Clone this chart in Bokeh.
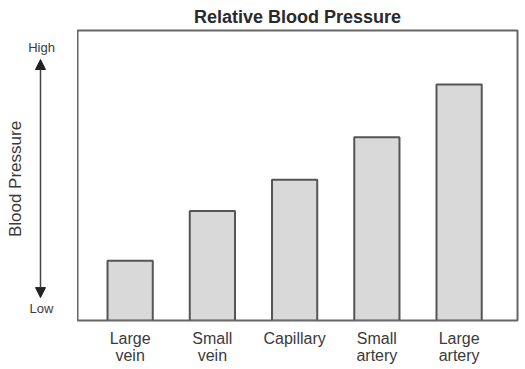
from bokeh.plotting import figure
from bokeh.layouts import row
from bokeh.models import ColumnDataSource, FixedTicker, Label, Arrow, NormalHead, Range1d
from bokeh.embed import file_html
from bokeh.resources import INLINE

categories = ["Large\nvein", "Small\nvein", "Capillary", "Small\nartery", "Large\nartery"]
positions = [1, 2, 3, 4, 5]
pressure = [20.6, 37.8, 48.5, 63.2, 81.4]

FONT = "Liberation Sans"
TXT = "#3a3a3a"

yr = Range1d(0, 100)

# ---- main chart ----
src = ColumnDataSource(dict(x=positions, top=pressure))
p = figure(frame_width=440, frame_height=290, output_backend="svg", toolbar_location=None,
           x_range=Range1d(0.36, 5.71), y_range=yr,
           min_border_left=0, min_border_right=4, min_border_top=30, min_border_bottom=45,
           title="Relative Blood Pressure")
p.title.align = "center"
p.title.text_font = FONT
p.title.text_font_size = "18px"
p.title.text_font_style = "bold"
p.title.text_color = "#2a2a2a"
p.title.standoff = 8

p.vbar(x="x", top="top", bottom=0, width=0.55, source=src,
       fill_color="#d9d9d9", line_color="#555555", line_width=2)

p.outline_line_color = "#666666"
p.outline_line_width = 2
p.xgrid.visible = False
p.ygrid.visible = False
p.yaxis.visible = False

ax = p.xaxis[0]
ax.ticker = FixedTicker(ticks=positions)
ax.major_label_overrides = {pos: lab for pos, lab in zip(positions, categories)}
ax.axis_line_color = None
ax.major_tick_line_color = None
ax.minor_tick_line_color = None
ax.major_label_standoff = 3
ax.major_label_text_font = FONT
ax.major_label_text_font_size = "16px"
ax.major_label_text_color = TXT
ax.major_label_text_line_height = 1.0

# ---- left annotation strip ----
q = figure(width=77, frame_height=290, output_backend="svg", toolbar_location=None,
           x_range=Range1d(0, 77), y_range=yr,
           min_border_left=0, min_border_right=0, min_border_top=30, min_border_bottom=45)
q.axis.visible = False
q.grid.visible = False
q.outline_line_color = None

q.add_layout(Arrow(x_start=40, y_start=7.9, x_end=40, y_end=90.0,
                   line_color="#444444", line_width=1.5,
                   start=NormalHead(size=10, fill_color="#222222", line_color="#222222"),
                   end=NormalHead(size=10, fill_color="#222222", line_color="#222222")))
q.add_layout(Label(x=41, y=94.2, text="High", text_font=FONT, text_font_size="13px",
                   text_color=TXT, text_align="center", text_baseline="middle"))
q.add_layout(Label(x=41, y=4.0, text="Low", text_font=FONT, text_font_size="13px",
                   text_color=TXT, text_align="center", text_baseline="middle"))
q.add_layout(Label(x=15, y=48.8, text="Blood Pressure", text_font=FONT, text_font_size="17px",
                   text_color=TXT, text_align="center", text_baseline="middle", angle=1.5708))

layout = row(q, p)
open("out.html", "w").write(file_html(layout, INLINE))
